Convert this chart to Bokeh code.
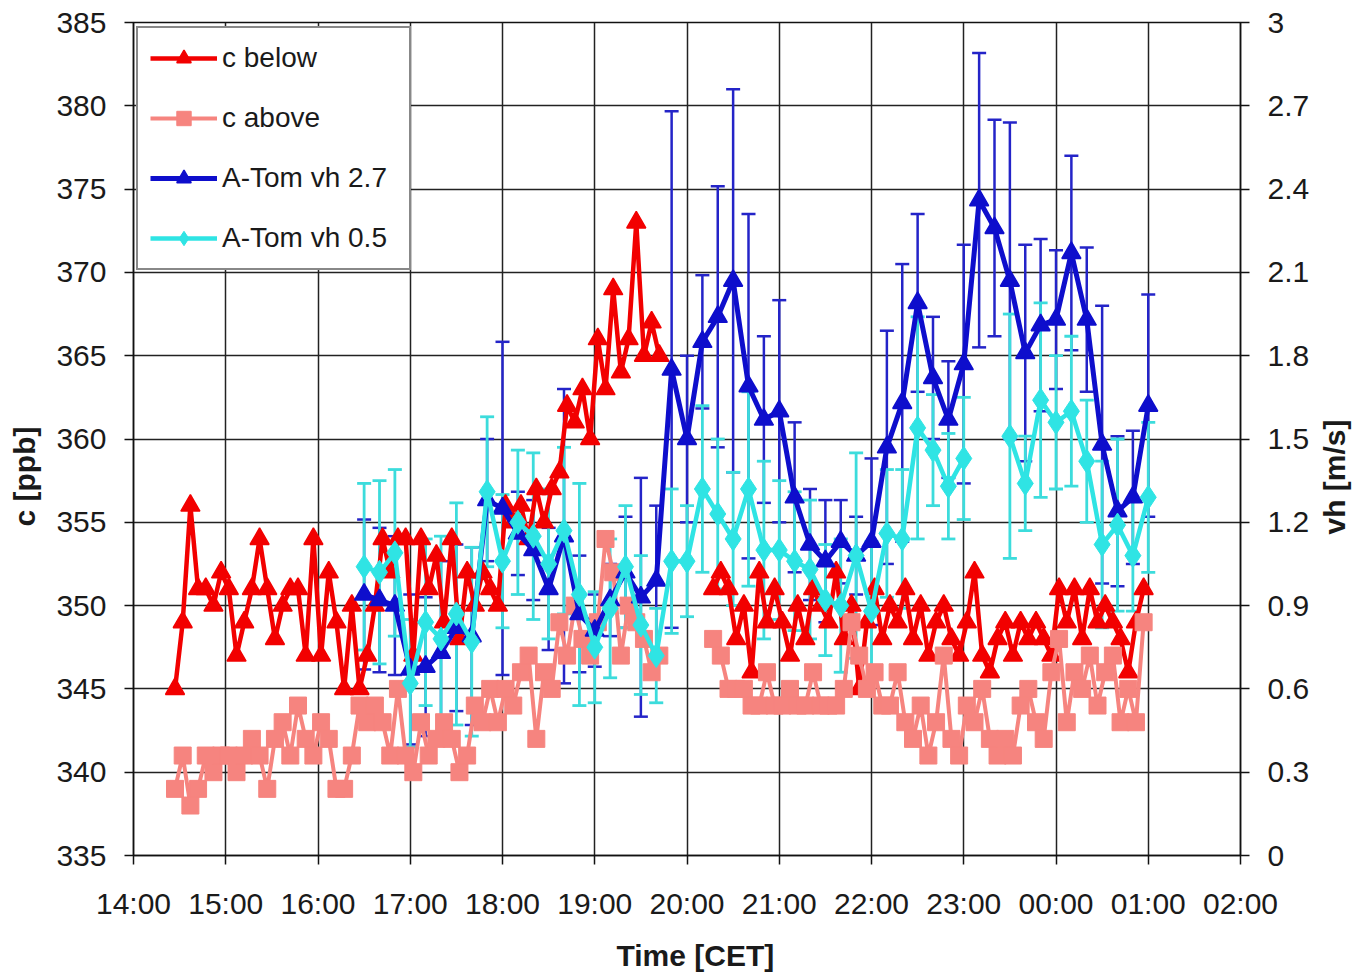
import math
import numpy as np
from bokeh.plotting import figure
from bokeh.layouts import row
from bokeh.models import (ColumnDataSource, Range1d, LinearAxis, FixedTicker,
                          Whisker, TeeHead, Legend, LegendItem, Label)
from bokeh.embed import file_html
from bokeh.resources import INLINE

nan = float("nan")

# ---- concentration series, 5-minute records starting at C_START ----
C_START = "14:27"
C_STEP_MIN = 5
c_below = [
    345, 349, 356, 351, 351, 350, 352, 351, 347, 349, 351, 354, 351, 348, 350, 351, 351, 347, 354, 347, 352, 349, 345, 350, 345,
    347, 350, 354, 352, 354, 354, 347, 354, 351, 353, 349, 354, 348, 352, 350, 352, 351, 350,
    356, 355, 356, 354, 357, 355, 357, 358, 362, 361, 363, 360, 366, 363, 369, 364, 366, 373, 365, 367, 365,
    nan, nan, nan, nan, nan, nan,
    351, 352, 351, 348, 350, 346, 352, 349, 351, 349, 347, 350, 348, 351, 350, 349, 352, 348, 350, 345,
    349, 351, 348, 350, 349, 351, 348, 350, 347, 349, 350, 348, 347, 349,
    352, 347, 346, 348, 349, 347, 349, 348, 349, 348, 347, 351, 349, 351, 348, 351, 349, 350, 349, 348,
    346, 349, 351,
]
c_above = [
    339, 341, 338, 339, 341, 340, 341, 341, 340, 341, 342, 341, 339, 342, 343, 341, 344, 342, 341, 343, 342, 339, 339, 341, 344,
    343, 344, 343, 341, 345, 341, 340, 343, 341, 342, 343, 342, 340, 341, 344, 343, 345, 343,
    345, 344, 346, 347, 342, 346, 345, 349, 347, 350, 348, 347, 349, 354, 352, 347, 350, 349, 348, 346, 347,
    nan, nan, nan, nan, nan, nan,
    348, 347, 345, 345, 345, 344, 344, 346, 344, 344, 345, 344, 344, 346, 344, 344, 344, 345, 349, 347,
    345, 346, 344, 344, 346, 343, 342, 344, 341, 343, 347, 342, 341, 344,
    343, 345, 342, 341, 342, 341, 344, 345, 343, 342, 346, 348, 343, 346, 345, 347, 344, 346, 347, 343,
    345, 343, 349,
]

# ---- A-Tom horizontal wind speed, 10-minute means starting at VH_START ----
VH_START = "16:30"
VH_STEP_MIN = 10
vh_27 = [
    0.94, 0.92, 0.90, 0.67, 0.68, 0.73, 0.82, 0.79, 1.28, 1.25,
    1.16, 1.10, 0.96, 1.15, 0.87, 0.81, 0.92, 1.02, 0.93, 0.99,
    1.75, 1.50, 1.85, 1.94, 2.07, 1.69, 1.57, 1.60, 1.29, 1.12,
    1.06, 1.13, 1.08, 1.13, 1.47, 1.63, 1.99, 1.72, 1.57, 1.77,
    2.36, 2.26, 2.07, 1.81, 1.91, 1.93, 2.17, 1.93, 1.48, 1.24,
    1.29, 1.62,
]
vh_27_err = [
    0.27, 0.26, 0.25, 0.27, 0.25, 0.33, 0.30, 0.32, 0.22, 0.60,
    0.15, 0.18, 0.22, 0.53, 0.21, 0.13, 0.13, 0.20, 0.43, 0.27,
    0.93, 0.30, 0.24, 0.47, 0.69, 0.62, 0.30, 0.40, 0.27, 0.20,
    0.22, 0.15, 0.14, 0.30, 0.42, 0.50, 0.32, 0.22, 0.21, 0.43,
    0.53, 0.39, 0.57, 0.39, 0.31, 0.25, 0.35, 0.26, 0.50, 0.27,
    0.24, 0.40,
]
vh_05 = [
    1.04, 1.02, 1.09, 0.62, 0.84, 0.78, 0.87, 0.77, 1.31, 1.06,
    1.20, 1.15, 1.05, 1.17, 0.94, 0.75, 0.89, 1.04, 0.83, 0.72,
    1.06, 1.06, 1.32, 1.23, 1.14, 1.32, 1.10, 1.10, 1.06, 1.03,
    0.92, 0.90, 1.08, 0.88, 1.16, 1.14, 1.54, 1.46, 1.33, 1.43,
    nan, nan, 1.51, 1.34, 1.64, 1.56, 1.60, 1.42, 1.12, 1.19,
    1.08, 1.29,
]
vh_05_err = [
    0.30, 0.33, 0.30, 0.23, 0.30, 0.37, 0.40, 0.34, 0.27, 0.24,
    0.26, 0.30, 0.27, 0.30, 0.40, 0.20, 0.25, 0.22, 0.25, 0.17,
    0.26, 0.20, 0.30, 0.27, 0.24, 0.35, 0.32, 0.25, 0.25, 0.25,
    0.20, 0.24, 0.37, 0.25, 0.23, 0.25, 0.40, 0.20, 0.19, 0.22,
    nan, nan, 0.44, 0.17, 0.35, 0.24, 0.27, 0.22, 0.30, 0.31,
    0.20, 0.27,
]

# ---- axes ----
X_TICK_HOURS = list(range(14, 27))
X_TICK_LABELS = ["14:00", "15:00", "16:00", "17:00", "18:00", "19:00", "20:00",
                 "21:00", "22:00", "23:00", "00:00", "01:00", "02:00"]
C_TICKS = [335, 340, 345, 350, 355, 360, 365, 370, 375, 380, 385]
VH_TICKS = [0, 0.3, 0.6, 0.9, 1.2, 1.5, 1.8, 2.1, 2.4, 2.7, 3]
VH_TICK_LABELS = ["0", "0.3", "0.6", "0.9", "1.2", "1.5", "1.8", "2.1", "2.4", "2.7", "3"]
VH_TITLE = "vh [m/s]"

FONT = "Liberation Sans"
TEXT = "#1a1a1a"
RED = "#F20000"
PINK = "#F6847F"
BLUE = "#0E0ECC"
BLUE_ERR = "#2424C8"
CYAN = "#2FE4E4"
CYAN_ERR = "#3CDCDC"
NBSP = "\u00a0"

MAIN_W, SIDE_W, H = 1312, 40, 975


def hour_axis(start, step_min, n):
    h, m = (int(s) for s in start.split(":"))
    t0 = h + m / 60.0
    return np.array([t0 + i * step_min / 60.0 for i in range(n)])


t_c = hour_axis(C_START, C_STEP_MIN, len(c_below))
t_vh = hour_axis(VH_START, VH_STEP_MIN, len(vh_27))

src_c = ColumnDataSource(dict(t=t_c, below=np.array(c_below, float), above=np.array(c_above, float)))

v27 = np.array(vh_27, float)
e27 = np.array(vh_27_err, float)
v05 = np.array(vh_05, float)
e05 = np.array(vh_05_err, float)
src_27 = ColumnDataSource(dict(t=t_vh, v=v27, lo=v27 - e27, hi=v27 + e27))
src_05 = ColumnDataSource(dict(t=t_vh, v=v05, lo=v05 - e05, hi=v05 + e05))

p = figure(width=MAIN_W, height=H, output_backend="svg", toolbar_location=None,
           x_range=Range1d(14, 26), y_range=Range1d(335, 385),
           min_border_left=133, min_border_right=MAIN_W - 1240,
           min_border_top=22, min_border_bottom=120)
p.extra_y_ranges = {"vh": Range1d(0, 3)}
p.background_fill_color = "white"
p.border_fill_color = "white"
p.outline_line_color = "#111111"
p.outline_line_width = 1.5

# grid
p.xgrid.ticker = FixedTicker(ticks=X_TICK_HOURS)
p.ygrid.ticker = FixedTicker(ticks=C_TICKS)
for g in (p.xgrid, p.ygrid):
    g.grid_line_color = "#222222"
    g.grid_line_width = 1.5


def style_axis(ax, standoff):
    ax.axis_line_color = "#111111"
    ax.axis_line_width = 1.5
    ax.major_tick_line_color = "#111111"
    ax.major_tick_line_width = 1.5
    ax.major_tick_in = 0
    ax.major_tick_out = 9
    ax.minor_tick_line_color = None
    ax.major_label_text_font = FONT
    ax.major_label_text_font_size = "30px"
    ax.major_label_text_color = TEXT
    ax.major_label_standoff = standoff


def axis_title(ax, title, title_standoff):
    ax.axis_label = title
    ax.axis_label_text_font = FONT
    ax.axis_label_text_font_size = "30px"
    ax.axis_label_text_font_style = "bold"
    ax.axis_label_text_color = TEXT
    ax.axis_label_standoff = title_standoff


xa = p.xaxis[0]
xa.ticker = FixedTicker(ticks=X_TICK_HOURS)
xa.major_label_overrides = {h: lab for h, lab in zip(X_TICK_HOURS, X_TICK_LABELS)}
style_axis(xa, 22)
axis_title(xa, NBSP * 2 + "Time [CET]", 16)

ya = p.yaxis[0]
ya.ticker = FixedTicker(ticks=C_TICKS)
style_axis(ya, 18)
axis_title(ya, "c [ppb]" + NBSP * 9, 12)

yr = LinearAxis(y_range_name="vh", ticker=FixedTicker(ticks=VH_TICKS))
yr.major_label_overrides = {v: lab for v, lab in zip(VH_TICKS, VH_TICK_LABELS)}
style_axis(yr, 18)
p.add_layout(yr, "right")

# concentration below / above
r_below_l = p.line("t", "below", source=src_c, line_color=RED, line_width=4.5)
r_below_m = p.scatter("t", "below", source=src_c, marker="triangle", size=19,
                      fill_color=RED, line_color=RED, line_width=1.5)
r_above_l = p.line("t", "above", source=src_c, line_color=PINK, line_width=4)
r_above_m = p.scatter("t", "above", source=src_c, marker="square", size=17,
                      fill_color=PINK, line_color=PINK, line_width=1)

# wind speed with error bars
w27 = Whisker(base="t", lower="lo", upper="hi", source=src_27, y_range_name="vh",
              line_color=BLUE_ERR, line_width=2.5,
              upper_head=TeeHead(size=14, line_color=BLUE_ERR, line_width=2.5),
              lower_head=TeeHead(size=14, line_color=BLUE_ERR, line_width=2.5))
p.add_layout(w27)
r27_l = p.line("t", "v", source=src_27, y_range_name="vh", line_color=BLUE, line_width=5)
r27_m = p.scatter("t", "v", source=src_27, y_range_name="vh", marker="triangle", size=19,
                  fill_color=BLUE, line_color=BLUE, line_width=1.5)

w05 = Whisker(base="t", lower="lo", upper="hi", source=src_05, y_range_name="vh",
              line_color=CYAN_ERR, line_width=2.8,
              upper_head=TeeHead(size=14, line_color=CYAN_ERR, line_width=2.8),
              lower_head=TeeHead(size=14, line_color=CYAN_ERR, line_width=2.8))
p.add_layout(w05)
r05_l = p.line("t", "v", source=src_05, y_range_name="vh", line_color=CYAN, line_width=4.5)
r05_m = p.scatter("t", "v", source=src_05, y_range_name="vh", marker="diamond", size=24,
                  fill_color=CYAN, line_color=CYAN, line_width=1)

legend = Legend(items=[
    LegendItem(label="c below", renderers=[r_below_l, r_below_m]),
    LegendItem(label="c above", renderers=[r_above_l, r_above_m]),
    LegendItem(label="A-Tom vh 2.7", renderers=[r27_l, r27_m]),
    LegendItem(label="A-Tom vh 0.5", renderers=[r05_l, r05_m]),
], location=(3, 585))
legend.label_text_font = FONT
legend.label_text_font_size = "28px"
legend.label_text_color = TEXT
legend.glyph_width = 67
legend.glyph_height = 36
legend.label_height = 36
legend.label_width = 175
legend.spacing = 24
legend.padding = 12
legend.margin = 0
legend.label_standoff = 5
legend.border_line_color = "#111111"
legend.border_line_width = 2
legend.background_fill_color = "white"
legend.background_fill_alpha = 1.0
p.add_layout(legend)

# narrow strip on the right carrying the secondary-axis title, read bottom to top
side = figure(width=SIDE_W, height=H, output_backend="svg", toolbar_location=None,
              x_range=Range1d(0, SIDE_W), y_range=Range1d(0, H),
              x_axis_type=None, y_axis_type=None, min_border=0)
side.outline_line_color = None
side.grid.visible = False
side.background_fill_color = "white"
side.border_fill_color = "white"
side.add_layout(Label(x=22, y=443, text=VH_TITLE, angle=math.pi / 2,
                      text_font=FONT, text_font_size="30px", text_font_style="bold",
                      text_color=TEXT, text_align="center", text_baseline="middle"))

layout = row(p, side, spacing=0)
open("out.html", "w").write(file_html(layout, INLINE))
